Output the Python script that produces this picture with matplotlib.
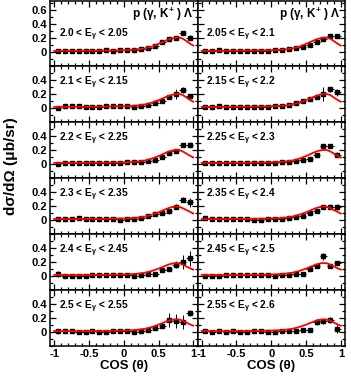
import matplotlib
matplotlib.use('Agg')
import matplotlib.pyplot as plt
from matplotlib.ticker import MultipleLocator, FuncFormatter

plt.rcParams['font.family'] = ['Liberation Sans', 'DejaVu Sans']
plt.rcParams['font.weight'] = 'bold'
plt.rcParams['mathtext.fontset'] = 'custom'
plt.rcParams['mathtext.rm'] = 'Liberation Sans:bold'
plt.rcParams['mathtext.it'] = 'Liberation Sans:bold'
plt.rcParams['mathtext.bf'] = 'Liberation Sans:bold'
plt.rcParams['axes.unicode_minus'] = False

# bin centres in cos(theta)
cos_bins = [-0.95, -0.85, -0.75, -0.65, -0.55, -0.45, -0.35, -0.25, -0.15, -0.05,
            0.05, 0.15, 0.25, 0.35, 0.45, 0.55, 0.65, 0.75, 0.85, 0.95]

# energy bins, column-major order (left column first, then right)
e_labels = ['2.0 < E$_{\\gamma}$ < 2.05', '2.1 < E$_{\\gamma}$ < 2.15',
            '2.2 < E$_{\\gamma}$ < 2.25', '2.3 < E$_{\\gamma}$ < 2.35',
            '2.4 < E$_{\\gamma}$ < 2.45', '2.5 < E$_{\\gamma}$ < 2.55',
            '2.05 < E$_{\\gamma}$ < 2.1', '2.15 < E$_{\\gamma}$ < 2.2',
            '2.25 < E$_{\\gamma}$ < 2.3', '2.35 < E$_{\\gamma}$ < 2.4',
            '2.45 < E$_{\\gamma}$ < 2.5', '2.55 < E$_{\\gamma}$ < 2.6']

xsec = [
    [0.010, 0.015, 0.015, 0.012, 0.010, 0.012, 0.015, 0.018, 0.012, 0.018,
     0.020, 0.025, 0.035, 0.050, 0.080, 0.130, 0.185, 0.200, 0.260, 0.200],
    [0.000, 0.030, 0.020, 0.020, 0.015, 0.010, 0.010, 0.020, 0.030, 0.025,
     0.020, 0.015, 0.025, 0.035, 0.060, 0.100, 0.150, 0.190, 0.250, 0.170],
    [0.000, 0.010, 0.015, 0.010, 0.005, 0.010, 0.010, 0.012, 0.015, 0.015,
     0.020, 0.020, 0.030, 0.035, 0.060, 0.090, 0.160, 0.180, 0.270, 0.270],
    [0.005, 0.010, 0.010, 0.020, 0.010, 0.005, 0.005, 0.010, 0.010, 0.000,
     0.010, 0.015, 0.030, 0.050, 0.090, 0.100, 0.120, 0.190, 0.290, 0.250],
    [0.030, 0.000, 0.000, 0.005, 0.000, 0.010, 0.010, 0.010, 0.015, 0.010,
     0.010, 0.005, 0.015, 0.030, 0.030, 0.080, 0.100, 0.160, 0.200, 0.250],
    [0.010, 0.020, 0.015, 0.000, 0.005, 0.010, 0.000, 0.005, 0.010, 0.015,
     0.010, 0.005, 0.010, 0.030, 0.060, 0.090, 0.170, 0.160, 0.140, 0.270],
    [0.010, 0.015, 0.020, 0.015, 0.010, 0.005, 0.005, 0.005, 0.010, 0.015,
     0.020, 0.030, 0.040, 0.050, 0.070, 0.100, 0.140, 0.180, 0.220, 0.220],
    [0.010, 0.015, 0.020, 0.015, 0.005, 0.005, 0.010, 0.010, 0.010, 0.015,
     0.020, 0.025, 0.040, 0.060, 0.090, 0.120, 0.150, 0.200, 0.260, 0.220],
    [0.005, 0.005, 0.010, 0.010, 0.005, 0.010, 0.010, 0.010, 0.010, 0.015,
     0.015, 0.020, 0.030, 0.040, 0.050, 0.070, 0.120, 0.250, 0.250, 0.130],
    [0.020, 0.010, 0.015, 0.010, 0.005, 0.005, 0.005, 0.000, 0.000, 0.005,
     0.010, 0.015, 0.030, 0.040, 0.060, 0.100, 0.130, 0.180, 0.190, 0.180],
    [0.000, 0.000, 0.005, 0.010, 0.010, 0.015, 0.010, 0.015, 0.010, 0.010,
     0.005, 0.010, 0.015, 0.025, 0.030, 0.100, 0.140, 0.280, 0.140, 0.180],
    [0.020, 0.005, 0.010, 0.005, 0.010, 0.000, 0.005, 0.010, 0.010, 0.000,
     0.005, 0.010, 0.015, 0.020, 0.030, 0.030, 0.140, 0.150, 0.170, 0.040],
]

xsec_err = [
    [0.010, 0.008, 0.008, 0.008, 0.008, 0.008, 0.008, 0.008, 0.008, 0.008,
     0.008, 0.008, 0.010, 0.010, 0.012, 0.015, 0.020, 0.020, 0.030, 0.035],
    [0.012, 0.010, 0.008, 0.008, 0.008, 0.008, 0.008, 0.008, 0.008, 0.008,
     0.008, 0.008, 0.010, 0.010, 0.012, 0.015, 0.020, 0.070, 0.040, 0.030],
    [0.010, 0.008, 0.008, 0.008, 0.008, 0.008, 0.008, 0.008, 0.008, 0.008,
     0.008, 0.008, 0.010, 0.010, 0.012, 0.015, 0.020, 0.030, 0.030, 0.035],
    [0.010, 0.008, 0.008, 0.008, 0.008, 0.008, 0.008, 0.008, 0.008, 0.008,
     0.008, 0.008, 0.010, 0.010, 0.012, 0.015, 0.040, 0.030, 0.040, 0.060],
    [0.040, 0.010, 0.008, 0.008, 0.008, 0.008, 0.008, 0.008, 0.008, 0.008,
     0.008, 0.008, 0.010, 0.010, 0.012, 0.015, 0.020, 0.050, 0.100, 0.110],
    [0.040, 0.010, 0.008, 0.008, 0.008, 0.008, 0.008, 0.008, 0.008, 0.008,
     0.008, 0.008, 0.010, 0.010, 0.012, 0.020, 0.100, 0.100, 0.100, 0.040],
    [0.010, 0.008, 0.008, 0.008, 0.008, 0.008, 0.008, 0.008, 0.008, 0.008,
     0.008, 0.008, 0.010, 0.010, 0.012, 0.015, 0.020, 0.020, 0.030, 0.030],
    [0.010, 0.008, 0.008, 0.008, 0.008, 0.008, 0.008, 0.008, 0.008, 0.008,
     0.008, 0.008, 0.010, 0.010, 0.012, 0.015, 0.020, 0.100, 0.040, 0.050],
    [0.010, 0.008, 0.008, 0.008, 0.008, 0.008, 0.008, 0.008, 0.008, 0.008,
     0.008, 0.008, 0.010, 0.010, 0.012, 0.015, 0.020, 0.030, 0.030, 0.040],
    [0.010, 0.008, 0.008, 0.008, 0.008, 0.008, 0.008, 0.008, 0.008, 0.008,
     0.008, 0.008, 0.010, 0.010, 0.012, 0.015, 0.020, 0.020, 0.030, 0.040],
    [0.010, 0.008, 0.008, 0.008, 0.008, 0.008, 0.008, 0.008, 0.008, 0.008,
     0.008, 0.008, 0.010, 0.010, 0.012, 0.015, 0.020, 0.050, 0.030, 0.030],
    [0.030, 0.008, 0.008, 0.008, 0.008, 0.008, 0.008, 0.008, 0.008, 0.008,
     0.008, 0.008, 0.010, 0.010, 0.012, 0.015, 0.040, 0.030, 0.040, 0.060],
]

# model curve (red), sampled in cos(theta)
curve_x = [-1.0, -0.8, -0.6, -0.4, -0.2, 0.0, 0.1, 0.2, 0.3, 0.4,
           0.5, 0.6, 0.65, 0.7, 0.75, 0.8, 0.85, 0.9, 0.95, 1.0]
curve_y = [
    [0.010, 0.012, 0.013, 0.014, 0.016, 0.020, 0.024, 0.032, 0.045, 0.070,
     0.110, 0.155, 0.175, 0.190, 0.198, 0.200, 0.185, 0.150, 0.115, 0.085],
    [0.010, 0.012, 0.013, 0.014, 0.016, 0.020, 0.024, 0.032, 0.045, 0.070,
     0.108, 0.150, 0.170, 0.185, 0.195, 0.195, 0.180, 0.145, 0.112, 0.085],
    [0.012, 0.012, 0.013, 0.014, 0.016, 0.020, 0.024, 0.032, 0.045, 0.072,
     0.110, 0.155, 0.175, 0.190, 0.197, 0.195, 0.175, 0.145, 0.115, 0.090],
    [0.012, 0.012, 0.013, 0.014, 0.016, 0.020, 0.024, 0.032, 0.045, 0.072,
     0.108, 0.150, 0.170, 0.183, 0.190, 0.185, 0.165, 0.140, 0.115, 0.090],
    [0.015, 0.013, 0.013, 0.014, 0.016, 0.020, 0.024, 0.032, 0.045, 0.070,
     0.105, 0.145, 0.165, 0.178, 0.185, 0.180, 0.160, 0.135, 0.110, 0.090],
    [0.015, 0.013, 0.013, 0.014, 0.016, 0.020, 0.024, 0.032, 0.045, 0.070,
     0.105, 0.145, 0.163, 0.175, 0.180, 0.178, 0.160, 0.135, 0.110, 0.090],
    [0.010, 0.012, 0.013, 0.014, 0.016, 0.020, 0.024, 0.032, 0.045, 0.070,
     0.110, 0.155, 0.175, 0.190, 0.198, 0.200, 0.185, 0.150, 0.115, 0.085],
    [0.010, 0.012, 0.013, 0.014, 0.016, 0.020, 0.024, 0.032, 0.045, 0.070,
     0.108, 0.150, 0.170, 0.185, 0.195, 0.195, 0.180, 0.145, 0.112, 0.085],
    [0.012, 0.012, 0.013, 0.014, 0.016, 0.020, 0.024, 0.032, 0.045, 0.072,
     0.110, 0.155, 0.175, 0.190, 0.197, 0.195, 0.175, 0.145, 0.115, 0.090],
    [0.012, 0.012, 0.013, 0.014, 0.016, 0.020, 0.024, 0.032, 0.045, 0.072,
     0.108, 0.150, 0.170, 0.183, 0.190, 0.185, 0.165, 0.140, 0.115, 0.090],
    [0.015, 0.013, 0.013, 0.014, 0.016, 0.020, 0.024, 0.032, 0.045, 0.070,
     0.105, 0.145, 0.165, 0.178, 0.185, 0.180, 0.160, 0.135, 0.110, 0.090],
    [0.015, 0.013, 0.013, 0.014, 0.016, 0.020, 0.024, 0.032, 0.045, 0.070,
     0.105, 0.145, 0.163, 0.175, 0.180, 0.178, 0.160, 0.135, 0.110, 0.090],
]

reaction = 'p ($\\gamma$, K$^{+}$ ) $\\Lambda$'

fig = plt.figure(figsize=(3.51, 3.79), dpi=100)
gs = fig.add_gridspec(6, 2, left=0.1425, right=0.983, top=0.997, bottom=0.087,
                      height_ratios=[0.92, 0.8, 0.8, 0.8, 0.8, 0.8],
                      hspace=0, wspace=0)

fmt = FuncFormatter(lambda v, p: f'{v:g}')

for col in range(2):
    for row in range(6):
        k = col * 6 + row
        ax = fig.add_subplot(gs[row, col])
        ax.errorbar(cos_bins, xsec[k], yerr=xsec_err[k], xerr=0.05, fmt='s',
                    ms=2.6, color='black', ecolor='black', elinewidth=0.7,
                    capsize=0, zorder=3)
        ax.plot(curve_x, curve_y[k], color='red', lw=1.3, zorder=4)

        ax.set_xlim(-1.06, 1.06)
        if row == 0:
            ax.set_ylim(-0.2, 0.72)
            ax.set_yticks([0, 0.2, 0.4, 0.6])
        else:
            ax.set_ylim(-0.2, 0.6)
            ax.set_yticks([0, 0.2, 0.4])
        ax.xaxis.set_major_locator(MultipleLocator(0.5))
        ax.xaxis.set_minor_locator(MultipleLocator(0.1))
        ax.yaxis.set_minor_locator(MultipleLocator(0.1))
        ax.tick_params(which='both', direction='in', top=True, right=True,
                       labelsize=8, width=0.9, pad=2)
        ax.tick_params(which='major', length=4)
        ax.tick_params(which='minor', length=2)
        for s in ax.spines.values():
            s.set_linewidth(1.1)
        ax.yaxis.set_major_formatter(fmt)
        ax.xaxis.set_major_formatter(fmt)
        if col == 1:
            ax.tick_params(labelleft=False)
        if row < 5:
            ax.tick_params(labelbottom=False)
        else:
            ax.set_xlabel('COS (θ)', fontsize=9.5, fontweight='bold', labelpad=1)

        if row == 0:
            ax.text(0.97, 0.8, reaction, transform=ax.transAxes, ha='right',
                    va='center', fontsize=8.5, fontweight='bold')
            ax.text(0.06, 0.48, e_labels[k], transform=ax.transAxes, ha='left',
                    va='center', fontsize=7.3, fontweight='bold')
        else:
            ax.text(0.06, 0.7, e_labels[k], transform=ax.transAxes, ha='left',
                    va='center', fontsize=7.3, fontweight='bold')

fig.text(0.03, 0.562, 'dσ/dΩ (μb/sr)', rotation=90, ha='center', va='center',
         fontsize=11, fontweight='bold')

fig.savefig('out.png', dpi=100)
